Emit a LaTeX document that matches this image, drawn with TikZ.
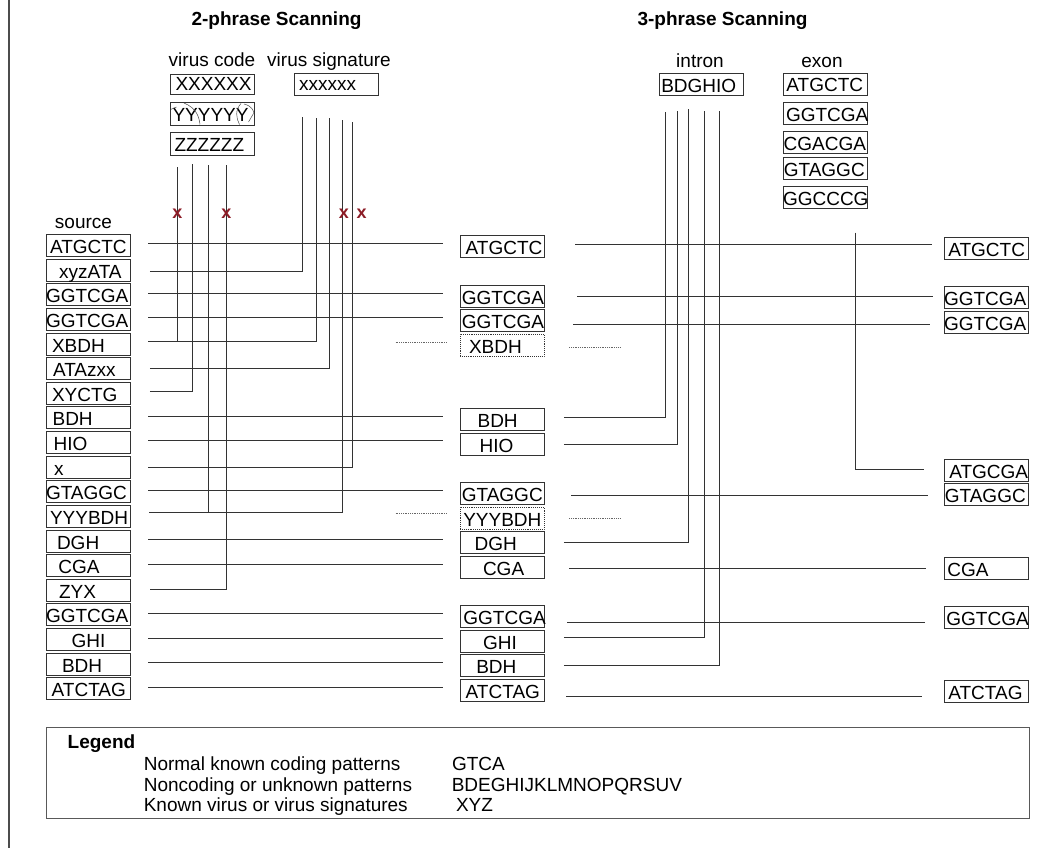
\documentclass[tikz,border=0pt]{standalone}
\usepackage{fontspec}
\setmainfont{Liberation Sans}
\usetikzlibrary{calc}
\newcommand\fsz{\fontsize{19}{22}\selectfont}
\newcommand\bt[2]{\makebox[84pt][l]{\hspace*{#1pt}#2}}
\newcommand\myhcon[6][]{\draw[ln,#1] ($(#2 |- 0,-#6)+(#3,0)$) -- ($(#4 |- 0,-#6)+(#5,0)$);}
\definecolor{xred}{RGB}{140,28,38}
\tikzset{
  bx/.style={draw=black!80, line width=0.9pt, minimum width=84pt, minimum height=22pt,
    inner sep=0pt, text height=16pt, text depth=0pt, font=\fsz},
  dbx/.style={bx, densely dotted, line width=0.8pt},
  lbl/.style={font=\fsz, inner sep=0pt, anchor=base},
  ttl/.style={font=\fsz\bfseries, inner sep=0pt, anchor=base},
  ln/.style={draw=black!80, line width=1pt},
  dl/.style={draw=black!60, line width=0.8pt, densely dotted},
  scrib/.style={draw=black!70, line width=0.5pt},
  xm/.style={font=\fontsize{18}{18}\selectfont\bfseries, text=xred, inner sep=0pt},
  lgtxt/.style={font=\fsz, inner sep=0pt, anchor=base west}
}
\begin{document}
\begin{tikzpicture}[x=1pt,y=1pt]
\useasboundingbox (0,0) rectangle (1063,-848);
% left frame line
\draw[line width=1.5pt, black!70] (9,0) -- (9,-848);

% titles
\node[ttl] (t2) at (276.5,-26) {2-phrase Scanning};
\node[ttl] (t3) at (722.5,-26) {3-phrase Scanning};

% labels
\node[lbl] (lvc) at (212,-67) {virus code};
\node[lbl] (lvs) at (329,-67) {virus signature};
\node[lbl] (lin) at (700,-68) {intron};
\node[lbl] (lex) at (822,-68) {exon};
\node[lbl] (lsrc) at (83.5,-228) {source};

% virus code / signature boxes
\node[bx, minimum height=20pt, text height=14pt] (vx) at (212.5,-84) {\bt{5}{XXXXXX}};
\node[bx, minimum height=23pt, text height=17pt] (vy) at (212.5,-113.5) {\bt{2}{YYYYYY}};
\node[bx, minimum height=23pt, text height=17pt] (vz) at (212.5,-143.5) {\bt{4}{ZZZZZZ}};
\node[bx, text height=14pt] (vs) at (336,-84) {\bt{5}{xxxxxx}};
% scribbles on YYYYYY
\draw[scrib] (171,-109.3) .. controls (173,-107.5) .. (176.5,-107);
\draw[scrib] (184,-103) .. controls (196,-108) and (199,-116) .. (200,-124.5);
\draw[scrib] (241,-103.5) .. controls (235,-110) and (236,-118) .. (239.5,-124.5);
\draw[scrib] (244,-104) .. controls (252,-106) and (254,-111) .. (254,-114);
\draw[scrib] (248.5,-122) -- (253.5,-113.5);

% intron / exon boxes
\node[bx] (it) at (701,-84.2) {\bt{2.3}{BDGHIO}};
\node[bx] (e1) at (825,-84) {\bt{3.4}{ATGCTC}};
\node[bx] (e2) at (825,-113.3) {\bt{3}{GGTCGA}};
\node[bx] (e3) at (825,-142.2) {\bt{0.7}{CGACGA}};
\node[bx] (e4) at (825,-168.7) {\bt{0.8}{GTAGGC}};
\node[bx] (e5) at (825,-197) {\bt{0}{GGCCCG}};

% free ends of the vertical connectors
\coordinate (vc1) at (177,-166.7);
\coordinate (vc2) at (192.5,-164);
\coordinate (vc3) at (208,-165);
\coordinate (vc4) at (226,-165);
\coordinate (sg1) at (302,-116.7);
\coordinate (sg2) at (316,-118);
\coordinate (sg3) at (329.3,-118);
\coordinate (sg4) at (342.3,-120);
\coordinate (sg5) at (352,-121.7);
\coordinate (in1) at (665.7,-112.3);
\coordinate (in2) at (677,-111);
\coordinate (in3) at (688.3,-109.3);
\coordinate (in4) at (704.7,-111);
\coordinate (in5) at (719.3,-111);
\coordinate (ex1) at (855.7,-232.7);

% source column
\node[bx] (s0) at (88,-245.5) {\bt{4}{ATGCTC}};
\node[bx] (s1) at (88,-270.1) {\bt{13}{xyzATA}};
\node[bx] (s2) at (88,-294.8) {\bt{0}{GGTCGA}};
\node[bx] (s3) at (88,-319.4) {\bt{0}{GGTCGA}};
\node[bx] (s4) at (88,-344.0) {\bt{6}{XBDH}};
\node[bx] (s5) at (88,-368.7) {\bt{7}{ATAzxx}};
\node[bx] (s6) at (88,-393.3) {\bt{6}{XYCTG}};
\node[bx] (s7) at (88,-417.9) {\bt{6.6}{BDH}};
\node[bx] (s8) at (88,-442.5) {\bt{7.6}{HIO}};
\node[bx] (s9) at (88,-467.2) {\bt{8}{x}};
\node[bx] (s10) at (88,-491.8) {\bt{0}{GTAGGC}};
\node[bx] (s11) at (88,-516.4) {\bt{4}{YYYBDH}};
\node[bx] (s12) at (88,-541.1) {\bt{11}{DGH}};
\node[bx] (s13) at (88,-565.7) {\bt{12.3}{CGA}};
\node[bx] (s14) at (88,-590.3) {\bt{13}{ZYX}};
\node[bx] (s15) at (88,-614.9) {\bt{0}{GGTCGA}};
\node[bx] (s16) at (88,-639.6) {\bt{25.7}{GHI}};
\node[bx] (s17) at (88,-664.2) {\bt{16}{BDH}};
\node[bx] (s18) at (88,-688.8) {\bt{5.7}{ATCTAG}};

% middle column
\node[bx] (m0) at (502,-246.7) {\bt{5.7}{ATGCTC}};
\node[bx] (m2) at (502,-296.3) {\bt{1.8}{GGTCGA}};
\node[bx] (m3) at (502,-320.3) {\bt{1.8}{GGTCGA}};
\node[dbx] (m4) at (502,-345.3) {\bt{9}{XBDH}};
\node[bx] (m7) at (502,-419.3) {\bt{17.6}{BDH}};
\node[bx] (m8) at (502,-444.3) {\bt{19.6}{HIO}};
\node[bx] (m10) at (502,-493.3) {\bt{1.8}{GTAGGC}};
\node[dbx] (m11) at (502,-518) {\bt{3.3}{YYYBDH}};
\node[bx] (m12) at (502,-542.7) {\bt{14.6}{DGH}};
\node[bx] (m13) at (502,-567) {\bt{23}{CGA}};
\node[bx] (m15) at (502,-616.7) {\bt{3.4}{GGTCGA}};
\node[bx] (m16) at (502,-641) {\bt{23}{GHI}};
\node[bx] (m17) at (502,-665.7) {\bt{16.3}{BDH}};
\node[bx] (m18) at (502,-690.3) {\bt{5.7}{ATCTAG}};

% right column
\node[bx] (r0) at (986,-248.3) {\bt{4.3}{ATGCTC}};
\node[bx] (r2) at (986,-297.7) {\bt{0}{GGTCGA}};
\node[bx] (r3) at (986,-322) {\bt{0}{GGTCGA}};
\node[bx] (r9) at (986,-470.5) {\bt{5.3}{ATGCGA}};
\node[bx] (r10) at (986,-494.3) {\bt{0.8}{GTAGGC}};
\node[bx] (r13) at (986,-568.3) {\bt{3.3}{CGA}};
\node[bx] (r15) at (986,-617.7) {\bt{2.4}{GGTCGA}};
\node[bx] (r18) at (986,-691.3) {\bt{4.3}{ATCTAG}};

% source -> middle
\myhcon{s0.east}{18}{m0.west}{-16.7}{243.5}
\myhcon{s2.east}{18}{m2.west}{-16.7}{293.3}
\myhcon{s3.east}{18}{m3.west}{-16.7}{317.7}
\myhcon{s7.east}{18}{m7.west}{-16.7}{416.5}
\myhcon{s8.east}{18}{m8.west}{-16.7}{440.7}
\myhcon{s10.east}{18}{m10.west}{-16.7}{490.3}
\myhcon{s12.east}{18}{m12.west}{-16.7}{539.2}
\myhcon{s13.east}{18}{m13.west}{-16.7}{564}
\myhcon{s15.east}{18}{m15.west}{-16.7}{613.3}
\myhcon{s16.east}{18}{m16.west}{-16.7}{638.2}
\myhcon{s17.east}{18}{m17.west}{-16.7}{662.5}
\myhcon{s18.east}{18}{m18.west}{-16.7}{687.5}

% source -> virus code / signature
\draw[ln] ($(s1.east |- 0,-271)+(19.3,0)$) -| (sg1);
\draw[ln] ($(s4.east |- 0,-341)+(18,0)$) -| (vc1);
\draw[ln] ($(s4.east |- 0,-341)+(18,0)$) -| (sg2);
\draw[ln] ($(s5.east |- 0,-368.7)+(19.3,0)$) -| (sg3);
\draw[ln] ($(s6.east |- 0,-391.7)+(19.3,0)$) -| (vc2);
\draw[ln] ($(s9.east |- 0,-467.3)+(18,0)$) -| (sg5);
\draw[ln] ($(s11.east |- 0,-512)+(19,0)$) -| (vc3);
\draw[ln] ($(s11.east |- 0,-512)+(19,0)$) -| (sg4);
\draw[ln] ($(s14.east |- 0,-589.3)+(20,0)$) -| (vc4);

% red x marks
\node[xm] (x1) at (177.5,-214) {x};
\node[xm] (x2) at (226.5,-214) {x};
\node[xm] (x3) at (344,-214) {x};
\node[xm] (x4) at (361.7,-214) {x};

% dotted stubs
\draw[dl] ($(m4.west |- 0,-342.7)+(-64,0)$) -- ($(m4.west |- 0,-342.7)+(-12.3,0)$);
\draw[dl] ($(m4.east |- 0,-347)+(24.7,0)$) -- ($(m4.east |- 0,-347)+(76,0)$);
\draw[dl] ($(m11.west |- 0,-513.3)+(-64,0)$) -- ($(m11.west |- 0,-513.3)+(-12.3,0)$);
\draw[dl] ($(m11.east |- 0,-518.7)+(24.7,0)$) -- ($(m11.east |- 0,-518.7)+(76,0)$);

% middle -> right
\myhcon{m0.east}{31}{r0.west}{-11.7}{244}
\myhcon{m2.east}{32.7}{r2.west}{-10.7}{296}
\myhcon{m3.east}{28.7}{r3.west}{-14}{324.3}
\myhcon{m10.east}{27}{r10.west}{-15.7}{495.7}
\myhcon{m13.east}{24.7}{r13.west}{-17.3}{568.7}
\myhcon{m15.east}{22.7}{r15.west}{-19}{622.7}
\myhcon{m18.east}{21.7}{r18.west}{-21.3}{696}

% middle -> intron
\draw[ln] ($(m7.east |- 0,-417.7)+(19.3,0)$) -| (in1);
\draw[ln] ($(m8.east |- 0,-444)+(19.3,0)$) -| (in2);
\draw[ln] ($(m12.east |- 0,-542.7)+(19.3,0)$) -| (in3);
\draw[ln] ($(m16.east |- 0,-637.3)+(19.3,0)$) -| (in4);
\draw[ln] ($(m17.east |- 0,-665)+(19.3,0)$) -| (in5);

% exon -> right
\draw[ln] (ex1) |- ($(r9.west |- 0,-469.3)+(-20,0)$);

% legend
\node[draw=black!65, line width=0.9pt, minimum width=983pt, minimum height=91pt,
  inner sep=0pt, anchor=north west] (leg) at (45.5,-726.5) {};
\node[ttl, anchor=base west] (lgt) at (67.5,-748) {Legend};
\node[lgtxt] (la1) at (143.6,-770) {Normal known coding patterns};
\node[lgtxt] (la2) at (143.6,-791) {Noncoding or unknown patterns};
\node[lgtxt] (la3) at (143.6,-811.5) {Known virus or virus signatures};
\node[lgtxt] (lb1) at (451.8,-770) {GTCA};
\node[lgtxt] (lb2) at (451.6,-791) {BDEGHIJKLMNOPQRSUV};
\node[lgtxt] (lb3) at (455.8,-811.5) {XYZ};
\end{tikzpicture}
\end{document}
